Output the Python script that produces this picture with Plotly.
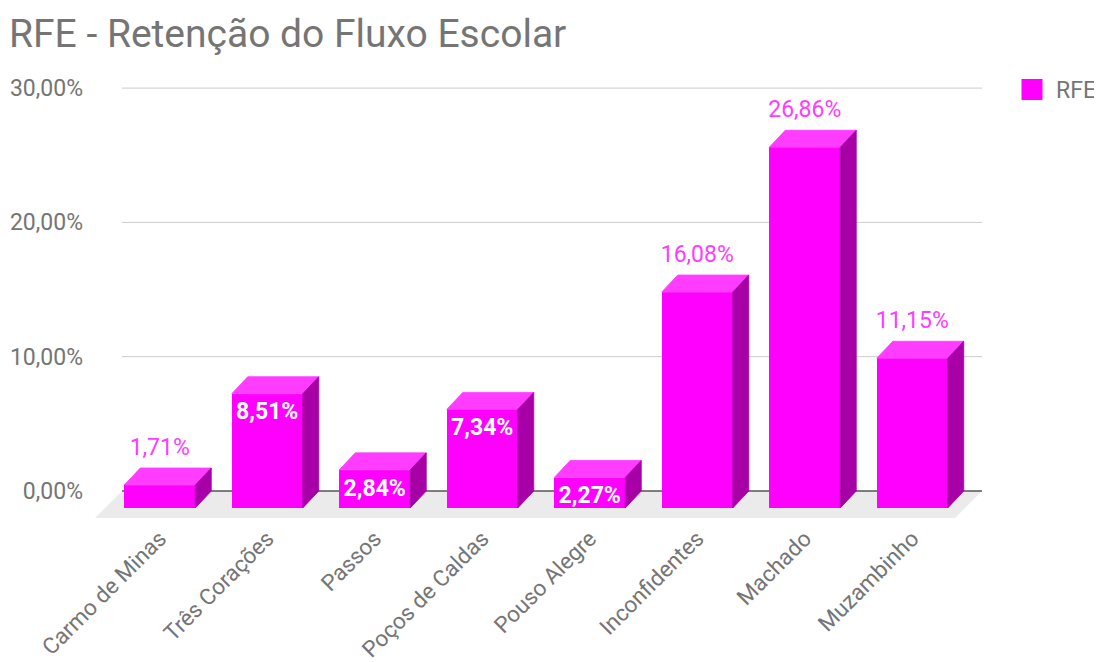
import plotly.graph_objects as go

# ---------------- data ----------------
categories = ["Carmo de Minas", "Três Corações", "Passos", "Poços de Caldas",
              "Pouso Alegre", "Inconfidentes", "Machado", "Muzambinho"]
values = [1.71, 8.51, 2.84, 7.34, 2.27, 16.08, 26.86, 11.15]
label_inside = [False, True, True, True, True, False, False, False]
y_ticks = [0, 10, 20, 30]
series_name = "RFE"
title_text = "RFE - Retenção do Fluxo Escolar"

# ---------------- geometry / style (page pixel coords) ----------------
OFF = 8                         # page body margin
W, H = 1102 - OFF, 662 - OFF    # figure size
P_L, P_R, P_T, P_B = 90, 985, 80, 520   # plot area on the page
M_L, M_T = P_L - OFF, P_T - OFF
M_R, M_B = W - (P_R - OFF), H - (P_B - OFF)
PX_X = 107.5          # px per category band
PX_Y = 13.43          # px per percentage point
X0_PX = 175.75        # px of first category (back plane)
Y0_PX = 491.0         # px of 0 %
DX = 16 / PX_X        # bar depth offset (x)
DY = 17 / PX_Y        # bar depth offset (y)
BAR_W = 71 / PX_X
FLOOR_DX = 27 / PX_X
FLOOR_DY = 27 / PX_Y
GAP_OUT = 19 / PX_Y
GAP_IN = 20 / PX_Y

x_range = [(P_L - X0_PX) / PX_X, (P_R - X0_PX) / PX_X]
y_range = [(Y0_PX - P_B) / PX_Y, (Y0_PX - P_T) / PX_Y]
PLOT_W, PLOT_H = P_R - P_L, P_B - P_T

C_FRONT = "#ff00ff"
C_TOP = "#ff3cff"
C_SIDE = "#a600a6"
C_TEXT = "#757575"
FONT = "Roboto"


def fmt(v):
    return f"{v:.2f}".replace(".", ",") + "%"


n = len(categories)
xs_front = [i - DX for i in range(n)]

fig = go.Figure()

# front faces
fig.add_trace(go.Bar(
    x=xs_front, y=values, base=[-DY] * n, width=[BAR_W] * n,
    marker=dict(color=C_FRONT, line=dict(width=0)),
    showlegend=False, hoverinfo="skip"))

# top and side faces
top_x, top_y, side_x, side_y = [], [], [], []
for i, v in enumerate(values):
    xl = xs_front[i] - BAR_W / 2
    xr = xl + BAR_W
    yt = v - DY
    top_x += [xl, xr, xr + DX, xl + DX, xl, None]
    top_y += [yt, yt, v, v, yt, None]
    side_x += [xr, xr + DX, xr + DX, xr, xr, None]
    side_y += [-DY, 0, v, yt, -DY, None]

fig.add_trace(go.Scatter(x=top_x, y=top_y, mode="lines", fill="toself",
                         fillcolor=C_TOP, line=dict(color=C_TOP, width=0.8),
                         showlegend=False, hoverinfo="skip"))
fig.add_trace(go.Scatter(x=side_x, y=side_y, mode="lines", fill="toself",
                         fillcolor=C_SIDE, line=dict(color=C_SIDE, width=0.8),
                         showlegend=False, hoverinfo="skip"))

# data labels (outside above the bar, inside near the top of the front face)
out_idx = [i for i in range(n) if not label_inside[i]]
in_idx = [i for i in range(n) if label_inside[i]]
fig.add_trace(go.Scatter(
    x=[xs_front[i] for i in out_idx],
    y=[values[i] + GAP_OUT for i in out_idx],
    mode="text", text=[fmt(values[i]) for i in out_idx],
    textposition="middle center",
    textfont=dict(family=FONT, size=23, color=C_TOP),
    cliponaxis=False, showlegend=False, hoverinfo="skip"))
fig.add_trace(go.Scatter(
    x=[xs_front[i] for i in in_idx],
    y=[values[i] - DY - GAP_IN for i in in_idx],
    mode="text", text=[fmt(values[i]) for i in in_idx],
    textposition="middle center",
    textfont=dict(family=FONT, size=23, color="#ffffff", weight="bold"),
    cliponaxis=False, showlegend=False, hoverinfo="skip"))

# legend entry
fig.add_trace(go.Scatter(x=[None], y=[None], mode="markers", name=series_name,
                         marker=dict(symbol="square", size=16, color=C_FRONT,
                                     line=dict(color=C_FRONT, width=5))))

# floor, gridlines, baseline
shapes = []
fl = -0.5
fr = n - 0.5
shapes.append(dict(
    type="path", xref="x", yref="y", layer="below",
    path=(f"M {fl},0 L {fr},0 L {fr - FLOOR_DX},{-FLOOR_DY} "
          f"L {fl - FLOOR_DX},{-FLOOR_DY} Z"),
    fillcolor="#ebebeb", line=dict(width=0)))
for t in y_ticks:
    if t == 0:
        continue
    shapes.append(dict(type="line", xref="x", yref="y", layer="below",
                       x0=fl, x1=fr, y0=t, y1=t,
                       line=dict(color="#cccccc", width=1)))
shapes.append(dict(type="line", xref="x", yref="y", layer="below",
                   x0=fl, x1=fr, y0=0, y1=0,
                   line=dict(color="#555555", width=1.5)))

fig.update_layout(
    width=W, height=H,
    margin=dict(l=M_L, r=M_R, t=M_T, b=M_B, pad=0, autoexpand=False),
    paper_bgcolor="white", plot_bgcolor="white",
    separators=",.",
    font=dict(family=FONT, color=C_TEXT, size=23),
    title=dict(text=title_text, x=1 / W, xref="container", xanchor="left",
               y=1 - (33 - OFF) / H, yref="container", yanchor="middle",
               font=dict(family=FONT, size=39, color=C_TEXT)),
    shapes=shapes,
    bargap=0,
    showlegend=True,
    legend=dict(x=(1008 - P_L) / PLOT_W, xanchor="left",
                y=1 + (P_T - 68) / PLOT_H, yanchor="top",
                itemwidth=38,
                font=dict(family=FONT, size=23, color=C_TEXT),
                bgcolor="rgba(0,0,0,0)"),
    xaxis=dict(range=x_range, tickmode="array", tickvals=xs_front,
               ticktext=categories, tickangle=-45, showgrid=False,
               zeroline=False, showline=False, ticks="",
               ticklabelstandoff=0,
               tickfont=dict(family=FONT, size=22.5, color=C_TEXT),
               fixedrange=True),
    yaxis=dict(range=y_range, tickmode="array", tickvals=y_ticks,
               ticktext=[fmt(t) for t in y_ticks], showgrid=False,
               zeroline=False, showline=False, ticks="",
               ticklabelstandoff=6,
               tickfont=dict(family=FONT, size=23, color=C_TEXT),
               fixedrange=True),
)

fig.write_html("out.html")
